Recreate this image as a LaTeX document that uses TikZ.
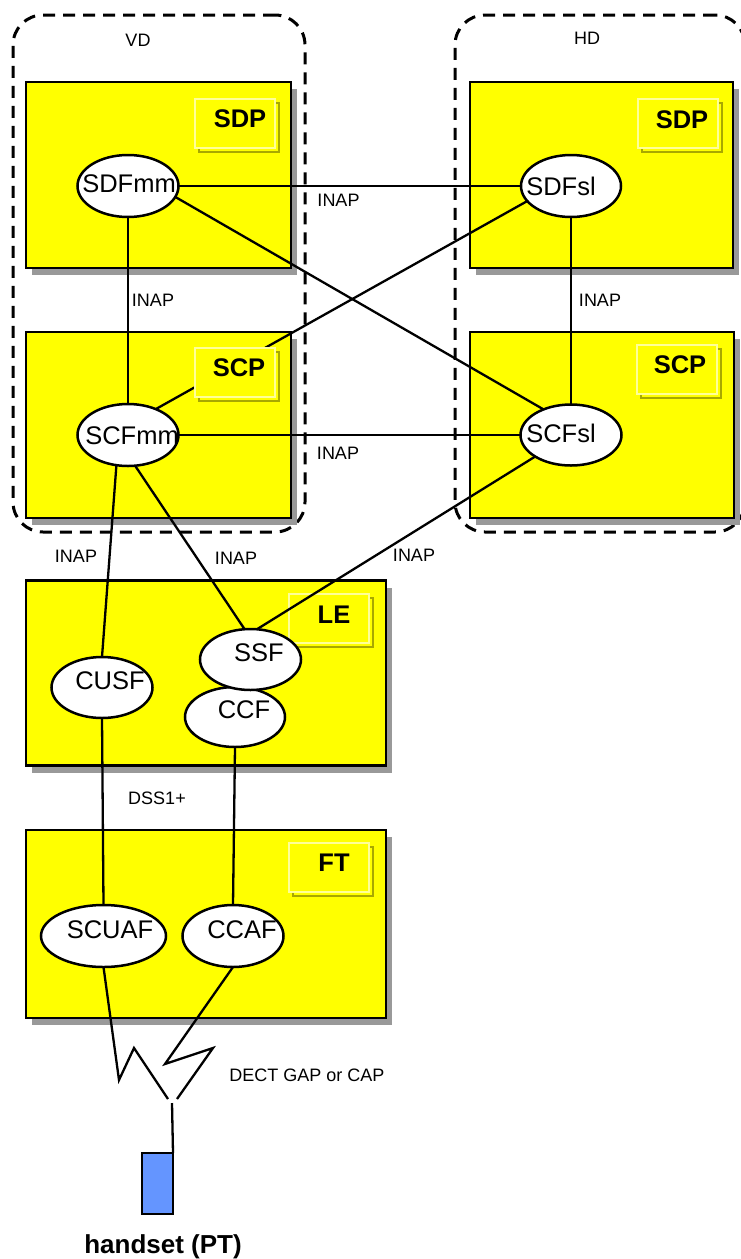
\documentclass[tikz,border=0pt]{standalone}
\usepackage{fontspec}
\setmainfont{Liberation Sans}
\usetikzlibrary{shapes.geometric,shadows}

\definecolor{boxyellow}{HTML}{FFFF00}
\definecolor{taglight}{HTML}{FFFF99}
\definecolor{tagdark}{HTML}{A8A800}
\definecolor{shadowgrey}{HTML}{999999}
\definecolor{handblue}{HTML}{6495FF}

\pgfdeclarelayer{frames}
\pgfdeclarelayer{lowlinks}
\pgfdeclarelayer{tags}
\pgfdeclarelayer{links}
\pgfsetlayers{frames,lowlinks,tags,links,main}

\begin{document}
\begin{tikzpicture}[x=1pt,y=-1pt,
  every node/.style={inner sep=0pt, outer sep=0pt},
  domainframe/.style={draw, line width=3pt, dash pattern=on 12pt off 8pt,
    rounded corners=30pt, rectangle},
  unit/.style={draw, line width=2.8pt, fill=boxyellow, rectangle,
    drop shadow={shadow xshift=6pt, shadow yshift=-7pt, fill=shadowgrey, opacity=1}},
  tagbox/.style={draw=taglight, line width=2pt, fill=boxyellow, rectangle,
    minimum width=80pt, minimum height=49pt,
    drop shadow={shadow xshift=4pt, shadow yshift=-4pt, fill=none,
      draw=tagdark, line width=2pt, opacity=1}},
  fn/.style={draw, ellipse, fill=white, line width=2.5pt},
  fntext/.style={font=\fontsize{25.5}{28}\selectfont},
  tagtext/.style={font=\bfseries\fontsize{25.5}{28}\selectfont},
  proto/.style={font=\fontsize{18}{20}\selectfont},
  link/.style={line width=2.3pt},
]
\useasboundingbox (0,0) rectangle (741,1259);

\begin{pgfonlayer}{frames}
% domains
\node[domainframe, minimum width=292pt, minimum height=517pt] (vd) at (159,273.5) {};
\node[domainframe, minimum width=290pt, minimum height=517pt] (hd) at (600,273.5) {};
% physical entities
\node[unit, minimum width=265pt, minimum height=186pt] (sdpv) at (158.5,175) {};
\node[unit, minimum width=265pt, minimum height=186pt] (scpv) at (158.5,425) {};
\node[unit, minimum width=263pt, minimum height=186pt] (sdph) at (601.5,175) {};
\node[unit, minimum width=264pt, minimum height=186pt] (scph) at (602,425) {};
\node[unit, minimum width=360pt, minimum height=185pt] (le) at (206,673) {};
\node[unit, minimum width=360pt, minimum height=188pt] (ft) at (206,924) {};
\end{pgfonlayer}

\node[proto] (vdlabel) at (138,40) {VD};
\node[proto] (hdlabel) at (587,38) {HD};

% entity tags
\begin{pgfonlayer}{tags}
\node[tagbox] (tsdpv) at (235,123.5) {};
\node[tagbox] (tscpv) at (234.5,372.5) {};
\node[tagbox] (tsdph) at (677.5,123) {};
\node[tagbox] (tscph) at (677,369.5) {};
\node[tagbox] (tle) at (329,618) {};
\node[tagbox] (tft) at (329,867.5) {};
\end{pgfonlayer}

% functional entities
\node[fn, minimum width=101pt, minimum height=62pt] (sdfmm) at (128,186) {};
\node[fn, minimum width=101pt, minimum height=62pt] (scfmm) at (128,435) {};
\node[fn, minimum width=100pt, minimum height=62pt] (sdfsl) at (571,186) {};
\node[fn, minimum width=101pt, minimum height=61pt] (scfsl) at (571,435) {};
\node[fn, minimum width=101pt, minimum height=61pt] (cusf) at (102,687.5) {};
\node[fn, minimum width=100pt, minimum height=60pt] (ccf) at (235,717) {};
\node[fn, minimum width=101pt, minimum height=61pt] (ssf) at (250.5,659.5) {};
\node[fn, minimum width=125pt, minimum height=62pt] (scuaf) at (103.5,936) {};
\node[fn, minimum width=101pt, minimum height=62pt] (ccaf) at (233,936) {};

% link passing under the SCP tag
\begin{pgfonlayer}{lowlinks}
\draw[link] (sdfsl.199) -- (scfmm.43);
\end{pgfonlayer}

% links
\begin{pgfonlayer}{links}
\draw[link] (sdfmm.east) -- (sdfsl.west);
\draw[link] (sdfmm.south) -- (scfmm.north);
\draw[link] (sdfmm.347) -- (scfsl.137);
\draw[link] (sdfsl.south) -- (scfsl.north);
\draw[link] (scfmm.east) -- (scfsl.west);
\draw[link] (scfmm.249) -- (cusf.north);
\draw[link] (scfmm.283) -- (ssf.101);
\draw[link] (scfsl.211) -- (ssf.78);
\draw[link] (cusf.south) -- (scuaf.north);
\draw[link] (ccf.south) -- (ccaf.north);
\end{pgfonlayer}

% radio link to the handset
\coordinate (za) at (168,1099);
\coordinate (zb) at (177,1099);
\coordinate (ant) at (172,1103);
\node[draw, line width=2.3pt, fill=handblue, minimum width=31pt, minimum height=61pt] (handset) at (157.5,1183.5) {};
\draw[link] (scuaf.south) -- (119,1080) -- (134,1048) -- (za);
\draw[link] (ccaf.south) -- (165,1064) -- (213,1048) -- (zb);
\draw[link] (handset.north east) -- (ant);

% texts
\node[fntext] (tx1) at (129,184) {SDFmm};
\node[fntext] (tx2) at (132,436) {SCFmm};
\node[fntext] (tx3) at (561,186) {SDFsl};
\node[fntext] (tx4) at (561,433) {SCFsl};
\node[fntext] (tx5) at (110,681) {CUSF};
\node[fntext] (tx6) at (259,653) {SSF};
\node[fntext] (tx7) at (244,710) {CCF};
\node[fntext] (tx8) at (110,929.5) {SCUAF};
\node[fntext] (tx9) at (242,929.5) {CCAF};

\node[tagtext] (lb1) at (240,119) {SDP};
\node[tagtext] (lb2) at (239,368) {SCP};
\node[tagtext] (lb3) at (682,120) {SDP};
\node[tagtext] (lb4) at (680,365) {SCP};
\node[tagtext] (lb5) at (334,615) {LE};
\node[tagtext] (lb6) at (334,863) {FT};

\node[proto] (p1) at (338.5,200.5) {INAP};
\node[proto] (p2) at (153,300) {INAP};
\node[proto] (p3) at (600,300) {INAP};
\node[proto] (p4) at (338,453.5) {INAP};
\node[proto] (p5) at (76,556.5) {INAP};
\node[proto] (p6) at (236,558.5) {INAP};
\node[proto] (p7) at (414,555) {INAP};
\node[proto] (p8) at (157,798) {DSS1+};
\node[proto] (p9) at (307,1075) {DECT GAP or CAP};
\node[font=\bfseries\fontsize{26}{28}\selectfont, anchor=base] (hs) at (163,1253) {handset (PT)};
\end{tikzpicture}
\end{document}
